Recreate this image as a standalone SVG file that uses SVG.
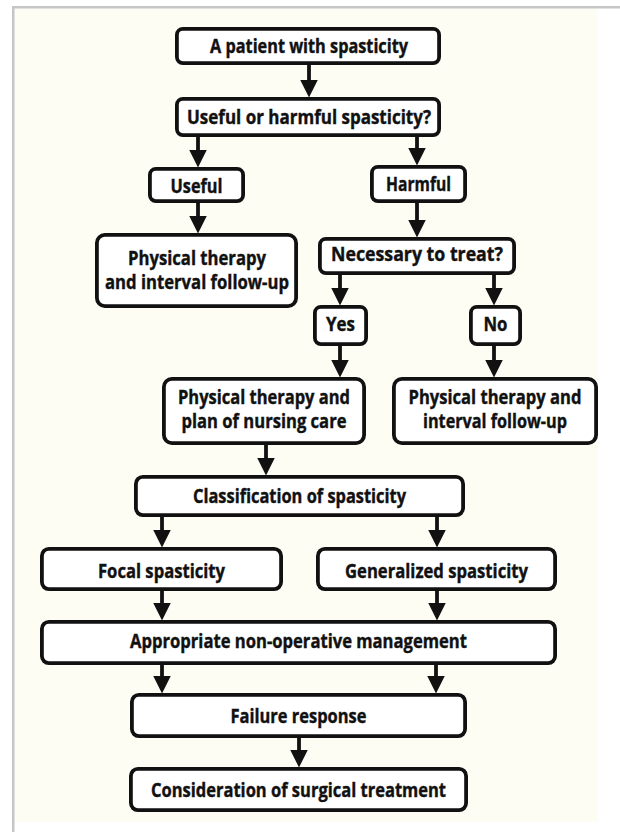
<svg xmlns="http://www.w3.org/2000/svg" width="620" height="832" viewBox="0 0 620 832">
<style>
.box{fill:#ffffff;stroke:#111111;stroke-width:3.8}
.t{font-family:"Liberation Sans Narrow","Open Sans","Liberation Sans",sans-serif;font-weight:bold;font-size:19px;fill:#111111;stroke:#111111;stroke-width:0.4;text-anchor:middle}
.c{stroke:#111111;stroke-width:3.8;fill:none;marker-end:url(#ah)}
</style>
<defs>
<marker id="ah" markerUnits="userSpaceOnUse" markerWidth="18" markerHeight="18" viewBox="0 0 17 17" refX="8.5" refY="8.5" orient="auto">
<path d="M0,0 L17,8.5 L0,17 z" fill="#111111"/>
</marker>
</defs>
<rect x="0" y="0" width="620" height="832" fill="#ffffff"/>
<rect x="14" y="8" width="584" height="814" fill="#fdfdf4"/>
<rect x="12" y="6" width="608" height="2.5" fill="#c6c6c6"/>
<rect x="12" y="6" width="2.5" height="826" fill="#c6c6c6"/>

<g id="connectors">
<line class="c" x1="309" y1="65" x2="309" y2="88.5"/>
<line class="c" x1="198" y1="137" x2="198" y2="158.5"/>
<line class="c" x1="417" y1="137" x2="417" y2="156.5"/>
<line class="c" x1="198" y1="203" x2="198" y2="224.5"/>
<line class="c" x1="417" y1="203" x2="417" y2="228.5"/>
<line class="c" x1="340" y1="275" x2="340" y2="296.5"/>
<line class="c" x1="494" y1="275" x2="494" y2="296.5"/>
<line class="c" x1="340" y1="346" x2="340" y2="368.5"/>
<line class="c" x1="494" y1="346" x2="494" y2="368.5"/>
<line class="c" x1="266" y1="445" x2="266" y2="466.5"/>
<line class="c" x1="162" y1="517" x2="162" y2="538.5"/>
<line class="c" x1="437" y1="517" x2="437" y2="538.5"/>
<line class="c" x1="162" y1="591" x2="162" y2="611.5"/>
<line class="c" x1="437" y1="591" x2="437" y2="611.5"/>
<line class="c" x1="162" y1="665" x2="162" y2="684.5"/>
<line class="c" x1="436" y1="665" x2="436" y2="684.5"/>
<line class="c" x1="299" y1="738" x2="299" y2="758.5"/>
</g>

<g id="n1"><rect class="box" x="176.9" y="28.9" width="262.2" height="34.2" rx="6"/>
<text class="t" x="309" y="53" textLength="198" lengthAdjust="spacingAndGlyphs">A patient with spasticity</text></g>
<g id="n2"><rect class="box" x="176.9" y="98.9" width="262.2" height="36.2" rx="6"/>
<text class="t" x="309" y="124" textLength="244" lengthAdjust="spacingAndGlyphs">Useful or harmful spasticity?</text></g>
<g id="n3"><rect class="box" x="149.9" y="168.9" width="93.2" height="32.2" rx="6"/>
<text class="t" x="196.5" y="192.5" textLength="52" lengthAdjust="spacingAndGlyphs">Useful</text></g>
<g id="n4"><rect class="box" x="371.9" y="166.9" width="93.2" height="34.2" rx="6"/>
<text class="t" x="418.5" y="190.5" textLength="65" lengthAdjust="spacingAndGlyphs">Harmful</text></g>
<g id="n5"><rect class="box" x="96.9" y="234.9" width="199.2" height="71.2" rx="8"/>
<text class="t" x="197" y="265" textLength="138" lengthAdjust="spacingAndGlyphs">Physical therapy</text>
<text class="t" x="197" y="289" textLength="184" lengthAdjust="spacingAndGlyphs">and interval follow-up</text></g>
<g id="n6"><rect class="box" x="319.9" y="238.9" width="194.2" height="34.2" rx="6"/>
<text class="t" x="417" y="260.5" textLength="172" lengthAdjust="spacingAndGlyphs">Necessary to treat?</text></g>
<g id="n7"><rect class="box" x="314.9" y="306.9" width="51.2" height="37.2" rx="6"/>
<text class="t" x="340.5" y="330.5" textLength="29" lengthAdjust="spacingAndGlyphs">Yes</text></g>
<g id="n8"><rect class="box" x="470.9" y="306.9" width="49.2" height="37.2" rx="6"/>
<text class="t" x="495.5" y="330.5" textLength="24" lengthAdjust="spacingAndGlyphs">No</text></g>
<g id="n9"><rect class="box" x="163.9" y="378.9" width="200.2" height="64.2" rx="8"/>
<text class="t" x="264" y="404" textLength="172" lengthAdjust="spacingAndGlyphs">Physical therapy and</text>
<text class="t" x="264" y="428" textLength="165" lengthAdjust="spacingAndGlyphs">plan of nursing care</text></g>
<g id="n10"><rect class="box" x="393.9" y="378.9" width="202.2" height="64.2" rx="8"/>
<text class="t" x="495" y="404" textLength="173" lengthAdjust="spacingAndGlyphs">Physical therapy and</text>
<text class="t" x="495" y="428" textLength="144" lengthAdjust="spacingAndGlyphs">interval follow-up</text></g>
<g id="n11"><rect class="box" x="135.9" y="476.9" width="327.2" height="38.2" rx="7"/>
<text class="t" x="299.5" y="502.5" textLength="213" lengthAdjust="spacingAndGlyphs">Classification of spasticity</text></g>
<g id="n12"><rect class="box" x="41.9" y="548.9" width="239.2" height="40.2" rx="7"/>
<text class="t" x="161.5" y="577.5" textLength="127" lengthAdjust="spacingAndGlyphs">Focal spasticity</text></g>
<g id="n13"><rect class="box" x="317.9" y="548.9" width="237.2" height="40.2" rx="7"/>
<text class="t" x="436.5" y="577.5" textLength="183" lengthAdjust="spacingAndGlyphs">Generalized spasticity</text></g>
<g id="n14"><rect class="box" x="41.9" y="621.9" width="513.2" height="41.2" rx="7"/>
<text class="t" x="298.5" y="647.5" textLength="337" lengthAdjust="spacingAndGlyphs">Appropriate non-operative management</text></g>
<g id="n15"><rect class="box" x="131.9" y="694.9" width="333.2" height="41.2" rx="7"/>
<text class="t" x="298.5" y="722.5" textLength="136" lengthAdjust="spacingAndGlyphs">Failure response</text></g>
<g id="n16"><rect class="box" x="130.9" y="768.9" width="335.2" height="41.2" rx="7"/>
<text class="t" x="298.5" y="796.5" textLength="295" lengthAdjust="spacingAndGlyphs">Consideration of surgical treatment</text></g>
</svg>
